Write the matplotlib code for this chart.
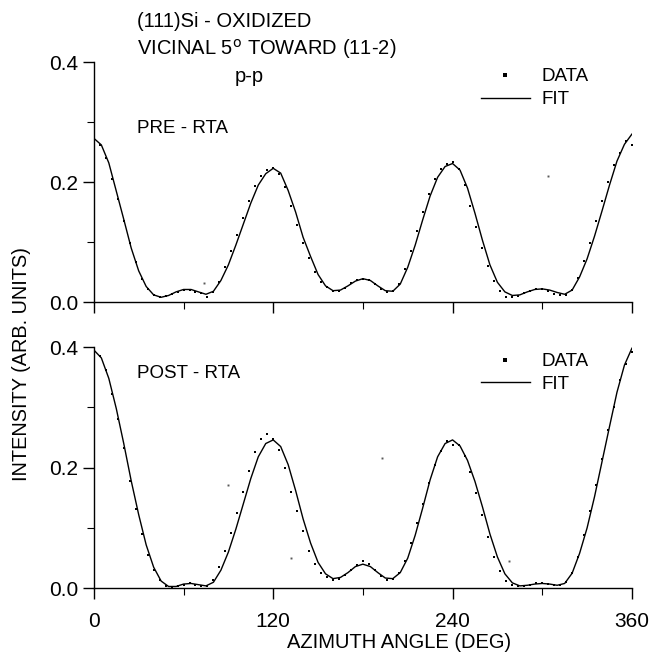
import numpy as np
import matplotlib.pyplot as plt
from matplotlib.lines import Line2D
from matplotlib.ticker import MultipleLocator

plt.rcParams['font.family'] = ['Liberation Sans', 'DejaVu Sans']

# fit curves, sampled every 5 deg
fit_angle = np.arange(0, 361, 5)
pre_fit = [0.273, 0.262, 0.232, 0.185, 0.138, 0.090, 0.052, 0.026, 0.012, 0.008,
           0.011, 0.017, 0.021, 0.021, 0.017, 0.013, 0.018, 0.036, 0.062, 0.095,
           0.130, 0.165, 0.195, 0.214, 0.223, 0.215, 0.186, 0.150, 0.108, 0.076,
           0.046, 0.027, 0.019, 0.020, 0.027, 0.035, 0.039, 0.036, 0.027, 0.019,
           0.018, 0.030, 0.058, 0.095, 0.137, 0.177, 0.208, 0.226, 0.231, 0.220,
           0.190, 0.148, 0.103, 0.062, 0.033, 0.017, 0.011, 0.012, 0.017, 0.021,
           0.022, 0.020, 0.016, 0.013, 0.020, 0.042, 0.072, 0.110, 0.152, 0.195,
           0.235, 0.263, 0.280]
post_fit = [0.395, 0.382, 0.348, 0.298, 0.240, 0.178, 0.122, 0.072, 0.035, 0.012,
            0.003, 0.003, 0.007, 0.008, 0.006, 0.004, 0.010, 0.030, 0.060, 0.098,
            0.140, 0.182, 0.218, 0.240, 0.246, 0.235, 0.205, 0.162, 0.115, 0.075,
            0.043, 0.024, 0.016, 0.018, 0.026, 0.036, 0.040, 0.036, 0.026, 0.017,
            0.016, 0.026, 0.050, 0.088, 0.133, 0.180, 0.218, 0.240, 0.246, 0.236,
            0.212, 0.177, 0.135, 0.090, 0.052, 0.024, 0.009, 0.004, 0.005, 0.007,
            0.008, 0.007, 0.005, 0.008, 0.025, 0.058, 0.100, 0.152, 0.210, 0.268,
            0.325, 0.370, 0.398]

# measured points, every 4 deg
data_angle = np.arange(0, 361, 4)
pre_data = [0.270, 0.262, 0.240, 0.205, 0.172, 0.135, 0.098, 0.066, 0.038, 0.022,
            0.012, 0.009, 0.010, 0.013, 0.017, 0.020, 0.020, 0.016, 0.015, 0.008,
            0.017, 0.034, 0.058, 0.085, 0.112, 0.140, 0.168, 0.193, 0.211, 0.220,
            0.224, 0.214, 0.192, 0.160, 0.128, 0.098, 0.073, 0.050, 0.034, 0.025,
            0.019, 0.018, 0.024, 0.031, 0.037, 0.039, 0.036, 0.030, 0.022, 0.017,
            0.019, 0.030, 0.055, 0.085, 0.118, 0.150, 0.180, 0.205, 0.222, 0.230,
            0.233, 0.222, 0.195, 0.160, 0.125, 0.090, 0.060, 0.035, 0.018, 0.009,
            0.008, 0.010, 0.015, 0.019, 0.021, 0.021, 0.018, 0.014, 0.012, 0.012,
            0.020, 0.040, 0.068, 0.098, 0.135, 0.168, 0.200, 0.228, 0.248, 0.268,
            0.262]
post_data = [0.392, 0.385, 0.362, 0.322, 0.280, 0.232, 0.178, 0.132, 0.090, 0.055,
             0.030, 0.013, 0.004, 0.002, 0.003, 0.006, 0.008, 0.006, 0.003, 0.004,
             0.014, 0.035, 0.062, 0.092, 0.125, 0.160, 0.195, 0.226, 0.248, 0.255,
             0.248, 0.230, 0.200, 0.160, 0.128, 0.095, 0.062, 0.040, 0.026, 0.018,
             0.014, 0.016, 0.022, 0.030, 0.038, 0.046, 0.040, 0.030, 0.020, 0.014,
             0.016, 0.025, 0.045, 0.075, 0.108, 0.140, 0.175, 0.205, 0.228, 0.244,
             0.238, 0.238, 0.220, 0.192, 0.158, 0.122, 0.085, 0.052, 0.028, 0.012,
             0.005, 0.003, 0.004, 0.006, 0.008, 0.008, 0.007, 0.005, 0.005, 0.010,
             0.026, 0.052, 0.088, 0.128, 0.172, 0.215, 0.262, 0.300, 0.345, 0.372,
             0.392]

# stray points off the main scan
pre_stray_angle = [74, 304]
pre_stray = [0.032, 0.210]
post_stray_angle = [90, 132, 193, 278]
post_stray = [0.171, 0.051, 0.216, 0.045]

fig = plt.figure(figsize=(6.61, 6.61), dpi=100)
ax_top = fig.add_axes([0.142, 0.543, 0.814, 0.363])
ax_bot = fig.add_axes([0.142, 0.110, 0.814, 0.365])

panels = [
    (ax_top, pre_fit, pre_data, pre_stray_angle, pre_stray, 'PRE - RTA', 0.725),
    (ax_bot, post_fit, post_data, post_stray_angle, post_stray, 'POST - RTA', 0.89),
]

for ax, fit, data, s_ang, s_val, tag, tag_y in panels:
    ax.plot(fit_angle, fit, color='black', lw=1.0)
    ax.plot(data_angle, data, ls='none', marker='s', ms=2.0, color='black', mew=0)
    ax.plot(s_ang, s_val, ls='none', marker='s', ms=1.4, color='0.35', mew=0)

    ax.set_xlim(0, 360)
    ax.set_ylim(0, 0.4)
    ax.set_xticks([0, 120, 240, 360])
    ax.xaxis.set_minor_locator(MultipleLocator(60))
    ax.set_yticks([0.0, 0.2, 0.4])
    ax.yaxis.set_minor_locator(MultipleLocator(0.1))
    ax.yaxis.set_major_formatter(plt.FuncFormatter(lambda v, p: f'{v:.1f}'))
    ax.tick_params(which='major', direction='out', length=8, width=1, labelsize=15)
    ax.tick_params(which='minor', direction='out', length=5, width=0.8)
    ax.tick_params(axis='x', which='major', pad=9)
    ax.tick_params(axis='y', which='major', pad=3)
    for side in ['top', 'right']:
        ax.spines[side].set_visible(False)
    ax.spines['left'].set_linewidth(1.0)
    ax.spines['bottom'].set_linewidth(1.0)

    ax.text(0.08, tag_y, tag, transform=ax.transAxes, fontsize=13.5, va='center')

    handles = [Line2D([], [], ls='none', marker='s', ms=2.4, color='black', mew=0),
               Line2D([], [], color='black', lw=1.0)]
    ax.legend(handles, ['DATA', 'FIT'], frameon=False, fontsize=13.5,
              loc='upper right', bbox_to_anchor=(0.95, 1.045),
              handlelength=2.6, handletextpad=0.6, labelspacing=0.3)

ax_top.tick_params(axis='x', labelbottom=False)

fig.text(0.207, 0.968, '(111)Si - OXIDIZED', fontsize=14.5, va='center')
fig.text(0.207, 0.926, 'VICINAL 5$^{\\mathrm{o}}$ TOWARD (11-2)', fontsize=14.5, va='center')
fig.text(0.377, 0.884, 'p-p', fontsize=14.5, va='center', ha='center')

fig.text(0.033, 0.449, 'INTENSITY (ARB. UNITS)', rotation=90, fontsize=14.3,
         ha='center', va='center')
fig.text(0.604, 0.028, 'AZIMUTH ANGLE (DEG)', fontsize=14.5, ha='center', va='center')

fig.savefig('out.png', dpi=100)
